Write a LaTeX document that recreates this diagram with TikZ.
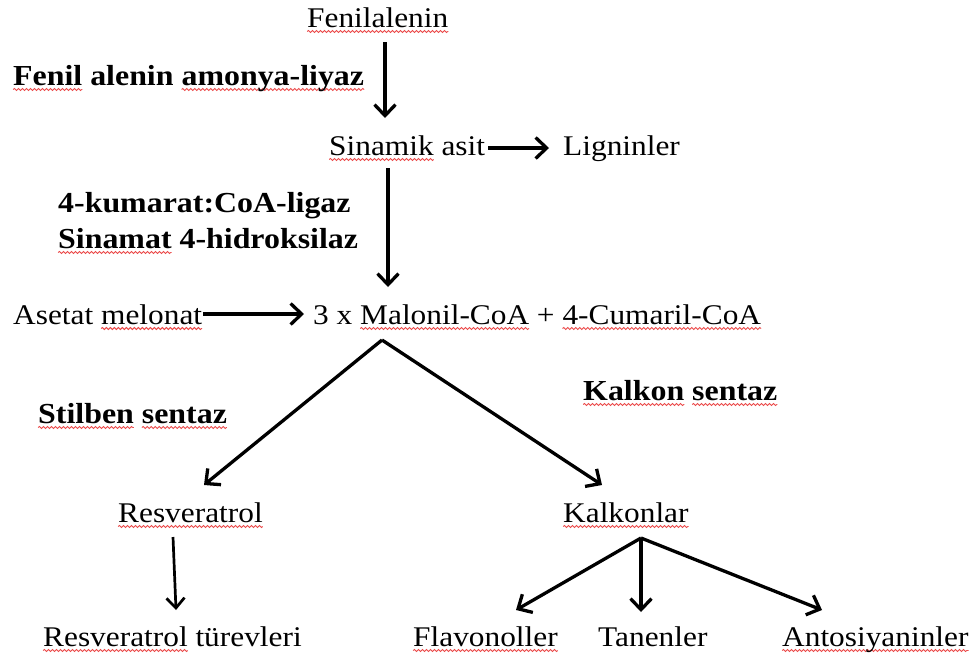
\documentclass[tikz,border=0pt]{standalone}
\usepackage{fontspec}
\setmainfont{Liberation Serif}[FakeStretch=1.1]
\usetikzlibrary{arrows.meta,decorations.pathmorphing}
\definecolor{spell}{RGB}{235,75,75}
\newlength\sqlen
\newcommand\sq[1]{\settowidth\sqlen{#1}\rlap{\tikz[overlay,x=1pt,y=1pt]\draw[spell,line width=0.9pt,decorate,decoration={snake,amplitude=1pt,segment length=4pt}] (0,-4.5) -- (\sqlen,-4.5);}#1}
\begin{document}
\begin{tikzpicture}[x=1pt,y=-1pt,
  lbl/.style={anchor=base west,inner sep=0pt,font=\fontsize{28.5}{32}\selectfont},
  enz/.style={anchor=base west,inner sep=0pt,font=\fontsize{29}{33}\selectfont\bfseries},
  arr/.style={line width=3.3pt,-{Straight Barb[length=11pt,width=21pt,line width=3.3pt]}},
  thin/.style={line width=2.7pt,-{Straight Barb[length=10pt,width=18pt,line width=2.7pt]}}]
\useasboundingbox (0,0) rectangle (971,659);
% texts
\node[lbl] (fen) at (307,27) {\sq{Fenilalenin}};
\node[enz] (pal) at (13,85) {\sq{Fenil} alenin \sq{amonya-liyaz}};
\node[lbl] (sin) at (329,155) {\sq{Sinamik} asit};
\node[lbl] (lig) at (563,155) {Ligninler};
\node[enz] (cl) at (58,212) {4-kumarat:CoA-ligaz};
\node[enz] (c4h) at (58,248) {\sq{Sinamat} 4-hidroksilaz};
\node[lbl] (ase) at (13,324) {Asetat \sq{melonat}};
\node[lbl] (mal) at (313,324) {3 x \sq{Malonil-CoA} + \sq{4-Cumaril-CoA}};
\node[enz] (ks) at (583,400) {\sq{Kalkon} \sq{sentaz}};
\node[enz] (ss) at (38,423) {\sq{Stilben} \sq{sentaz}};
\node[lbl] (res) at (118,522) {\sq{Resveratrol}};
\node[lbl] (kal) at (563,522) {\sq{Kalkonlar}};
\node[lbl] (rest) at (43,646) {\sq{Resveratrol} türevleri};
\node[lbl] (fla) at (413,646) {\sq{Flavonoller}};
\node[lbl] (tan) at (598,646) {Tanenler};
\node[lbl] (ant) at (782,646) {\sq{Antosiyaninler}};
% connector end points
\coordinate (a1s) at (385,42);  \coordinate (a1e) at (385,118);
\coordinate (a2s) at (388,168); \coordinate (a2e) at (388,287);
\coordinate (a3s) at (488,148); \coordinate (a3e) at (549,148);
\coordinate (a4s) at (203,314); \coordinate (a4e) at (304,314);
\coordinate (apx) at (382,340);
\coordinate (resin) at (204,485); \coordinate (kalin) at (602,485);
\coordinate (r1s) at (173,537); \coordinate (r1e) at (176,610);
\coordinate (kapx) at (641,538);
\coordinate (flain) at (516,610); \coordinate (tanin) at (641,612); \coordinate (antin) at (822,610);
% connectors
\draw[arr] (a1s) -- (a1e);
\draw[arr] (a2s) -- (a2e);
\draw[arr] (a3s) -- (a3e);
\draw[arr] (a4s) -- (a4e);
\draw[arr] (apx) -- (resin);
\draw[arr] (apx) -- (kalin);
\draw[thin] (r1s) -- (r1e);
\draw[arr] (kapx) -- (flain);
\draw[arr] (kapx) -- (tanin);
\draw[arr] (kapx) -- (antin);
\end{tikzpicture}
\end{document}
